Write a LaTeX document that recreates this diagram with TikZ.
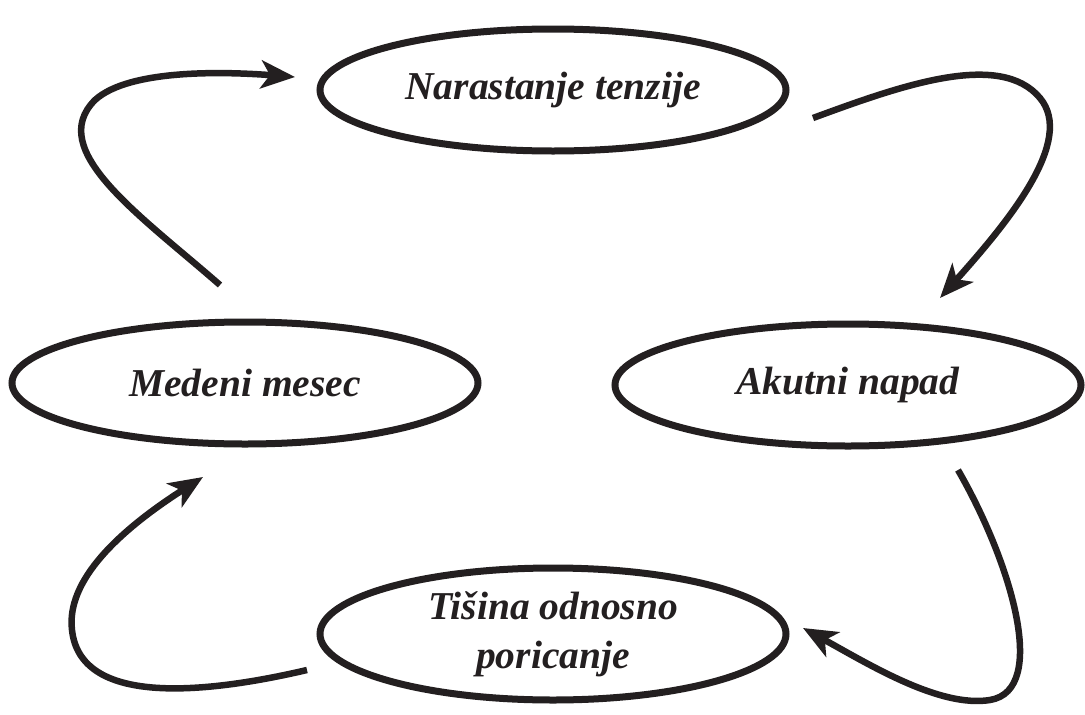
\documentclass[tikz,border=0pt]{standalone}
\usepackage{fontspec}
\setmainfont{Liberation Serif}
\usepackage{tikz}
\usetikzlibrary{arrows.meta, shapes.geometric}
\definecolor{ink}{HTML}{231F20}

\tikzset{
  phase/.style={ellipse, draw=ink, line width=7pt, minimum width=466pt,
    minimum height=122pt, inner sep=0pt, text=ink, align=center,
    font=\fontsize{39.5}{49}\selectfont\bfseries\itshape},
  cyc/.style={draw=ink, line width=6.5pt,
    -{Stealth[length=34pt, width=28pt, inset=9pt]}}
}

\begin{document}
\begin{tikzpicture}[x=1pt, y=-1pt]
        \useasboundingbox (0,0) rectangle (1085,715);

        % the four phases
        \node[phase] (tenzija) at (553,90) {Narastanje tenzije};
        \node[phase] (napad) at (848,385) {Akutni napad};
        \node[phase, minimum height=132pt] (tisina) at (553,634) {Tišina odnosno\\poricanje};
        \node[phase] (mesec) at (245,383) {Medeni mesec};

        % free ends of the arrows
        \coordinate (s1) at (813,118);  \coordinate (e1) at (940,298);
        \coordinate (s2) at (958,470);  \coordinate (e2) at (803,628);
        \coordinate (s3) at (307,670);  \coordinate (e3) at (203,477);
        \coordinate (s4) at (220,285);  \coordinate (e4) at (295,77);

        \draw[cyc] (s1) .. controls (900,86) and (1000,50) .. (1040,98)
                        .. controls (1075,140) and (1010,220) .. (e1);
        \draw[cyc] (s2) .. controls (1010,560) and (1050,690) .. (990,700)
                        .. controls (940,708) and (870,665) .. (e2);
        \draw[cyc] (s3) .. controls (200,695) and (80,705) .. (72,630)
                        .. controls (66,580) and (120,530) .. (e3);
        \draw[cyc] (s4) .. controls (140,215) and (45,150) .. (95,100)
                        .. controls (130,68) and (230,72) .. (e4);
    \end{tikzpicture}
\end{document}
